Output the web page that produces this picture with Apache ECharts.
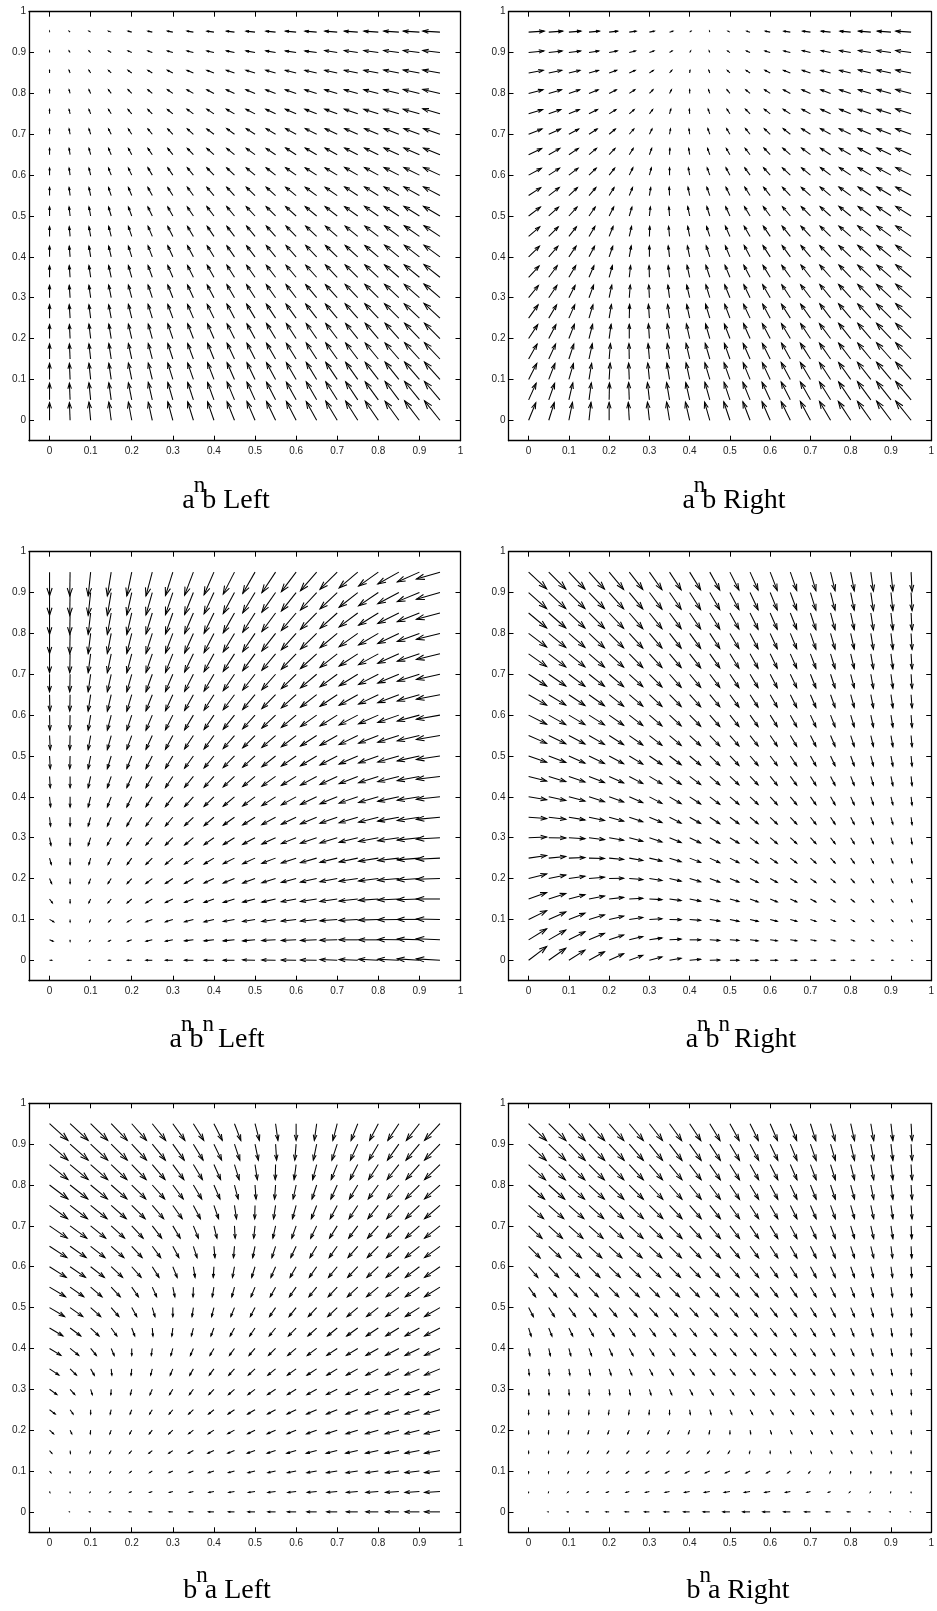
<!DOCTYPE html>
<html>
<head>
<meta charset="utf-8">
<script src="https://cdn.jsdelivr.net/npm/echarts@6/dist/echarts.min.js"></script>
<style>
  html, body { margin: 0; padding: 0; background: #fff; }
  #chart { width: 937px; height: 1611px; }
</style>
</head>
<body>
<div id="chart"></div>
<script>
// Sample grid of the six direction fields (same grid for every panel)
const gridX = [0, 0.05, 0.1, 0.15, 0.2, 0.25, 0.3, 0.35, 0.4, 0.45, 0.5, 0.55, 0.6, 0.65, 0.7, 0.75, 0.8, 0.85, 0.9, 0.95];
const gridY = [0, 0.05, 0.1, 0.15, 0.2, 0.25, 0.3, 0.35, 0.4, 0.45, 0.5, 0.55, 0.6, 0.65, 0.7, 0.75, 0.8, 0.85, 0.9, 0.95];
const tickValues = [0, 0.1, 0.2, 0.3, 0.4, 0.5, 0.6, 0.7, 0.8, 0.9, 1];

// Vector components: row k belongs to y = gridY[k], column j to x = gridX[j]

// a^n b, Left: horizontal component
const anbLeftU = [
  [0,-2,-5,-7,-10,-12,-15,-17,-19,-22,-24,-27,-29,-31,-34,-36,-39,-41,-44,-46],
  [0,-2,-5,-7,-10,-12,-15,-17,-19,-22,-24,-27,-29,-31,-34,-36,-39,-41,-44,-46],
  [0,-2,-5,-7,-10,-12,-15,-17,-19,-22,-24,-27,-29,-31,-34,-36,-39,-41,-44,-46],
  [0,-2,-5,-7,-10,-12,-15,-17,-19,-22,-24,-27,-29,-31,-34,-36,-39,-41,-44,-46],
  [0,-2,-5,-7,-10,-12,-15,-17,-19,-22,-24,-27,-29,-31,-34,-36,-39,-41,-44,-46],
  [0,-2.5,-5,-7.5,-10,-12.5,-15,-17.5,-20,-22.5,-25,-27.5,-30,-32.5,-35,-37.5,-40,-42.5,-45,-47.5],
  [0,-2.5,-5,-7.5,-10,-12.5,-15,-17.5,-20,-22.5,-25,-27.5,-30,-32.5,-35,-37.5,-40,-42.5,-45,-47.5],
  [0,-2.5,-5,-7.5,-10,-12.5,-15,-17.5,-20,-22.5,-25,-27.5,-30,-32.5,-35,-37.5,-40,-42.5,-45,-47.5],
  [0,-2.5,-5,-7.5,-10,-12.5,-15,-17.5,-20,-22.5,-25,-27.5,-30,-32.5,-35,-37.5,-40,-42.5,-45,-47.5],
  [0,-2.5,-5,-7.5,-10,-12.5,-15,-17.5,-20,-22.5,-25,-27.5,-30,-32.5,-35,-37.5,-40,-42.5,-45,-47.5],
  [0,-3,-5,-8,-10,-13,-15,-18,-21,-23,-26,-28,-31,-34,-36,-39,-41,-44,-46,-49],
  [0,-3,-5,-8,-10,-13,-15,-18,-21,-23,-26,-28,-31,-34,-36,-39,-41,-44,-46,-49],
  [0,-3,-5,-8,-10,-13,-15,-18,-21,-23,-26,-28,-31,-34,-36,-39,-41,-44,-46,-49],
  [0,-3,-5,-8,-10,-13,-15,-18,-21,-23,-26,-28,-31,-34,-36,-39,-41,-44,-46,-49],
  [0,-3,-5,-8,-10,-13,-15,-18,-21,-23,-26,-28,-31,-34,-36,-39,-41,-44,-46,-49],
  [0,-3,-5,-8,-11,-13,-16,-19,-21,-24,-27,-29,-32,-35,-37,-40,-43,-45,-48,-51],
  [0,-3,-5,-8,-11,-13,-16,-19,-21,-24,-27,-29,-32,-35,-37,-40,-43,-45,-48,-51],
  [0,-3,-5,-8,-11,-13,-16,-19,-21,-24,-27,-29,-32,-35,-37,-40,-43,-45,-48,-51],
  [0,-3,-5,-8,-11,-13,-16,-19,-21,-24,-27,-29,-32,-35,-37,-40,-43,-45,-48,-51],
  [0,-3,-5,-8,-11,-13,-16,-19,-21,-24,-27,-29,-32,-35,-37,-40,-43,-45,-48,-51]
];

// a^n b (Left and Right): vertical component
const anbV = [
  [53,53,54,54,54,54,55,55,55,55,56,56,56,56,57,57,57,57,58,58],
  [50,50,51,51,51,52,52,52,52,53,53,53,53,54,54,54,54,55,55,55],
  [48,48,48,48,49,49,49,49,50,50,50,50,50,51,51,51,51,52,52,52],
  [45,45,45,46,46,46,46,46,47,47,47,47,47,48,48,48,48,48,49,49],
  [42,42,43,43,43,43,44,44,44,44,44,45,45,45,45,45,46,46,46,46],
  [40,40,40,40,41,41,41,41,41,42,42,42,42,42,42,43,43,43,43,44],
  [37,37,37,38,38,38,38,38,38,39,39,39,39,39,39,40,40,40,40,41],
  [34,35,35,35,35,35,35,35,36,36,36,36,36,36,37,37,37,37,37,38],
  [32,32,32,32,32,33,33,33,33,33,33,34,34,34,34,34,34,35,35,35],
  [29,29,29,30,30,30,30,30,30,30,31,31,31,31,31,31,31,32,32,32],
  [27,27,27,27,27,27,27,27,28,28,28,28,28,28,28,28,29,29,29,29],
  [24,24,24,24,24,24,24,25,25,25,25,25,25,25,25,26,26,26,26,26],
  [21,21,21,21,21,22,22,22,22,22,22,22,22,22,22,23,23,23,23,23],
  [19,19,19,19,19,19,19,19,19,19,19,19,20,20,20,20,20,20,20,20],
  [16,16,16,16,16,16,16,16,16,17,17,17,17,17,17,17,17,17,17,17],
  [13,13,13,13,13,13,13,14,14,14,14,14,14,14,14,14,14,14,14,15],
  [11,11,11,11,11,11,11,11,11,11,11,11,11,11,11,11,11,11,12,12],
  [8,8,8,8,8,8,8,8,8,8,8,8,8,8,8,8,8,9,9,9],
  [5,5,5,5,5,5,5,5,5,5,5,5,5,5,6,6,6,6,6,6],
  [3,3,3,3,3,3,3,3,3,3,3,3,3,3,3,3,3,3,3,3]
];

// a^n b, Right: horizontal component
const anbRightU = [
  [22,17,11,6,0,-3,-6,-9,-13,-16,-19,-22,-25,-28,-31,-34,-38,-41,-44,-47],
  [23,18,12,7,1,-2,-6,-9,-12,-15,-18,-22,-25,-28,-31,-34,-37,-41,-44,-47],
  [25,19,14,8,3,-2,-5,-8,-11,-15,-18,-21,-24,-28,-31,-34,-37,-41,-44,-47],
  [26,21,15,10,4,-1,-4,-7,-11,-14,-17,-21,-24,-27,-31,-34,-37,-40,-44,-47],
  [28,22,17,11,6,0,-3,-7,-10,-13,-17,-20,-24,-27,-30,-34,-37,-40,-44,-47],
  [29,24,18,12,7,1,-3,-6,-9,-13,-16,-20,-23,-27,-30,-33,-37,-40,-44,-47],
  [30,25,19,14,8,3,-2,-5,-9,-12,-16,-19,-23,-26,-30,-33,-37,-40,-44,-47],
  [32,26,21,15,10,4,-1,-4,-8,-12,-15,-19,-22,-26,-29,-33,-36,-40,-43,-47],
  [33,28,22,17,11,6,0,-4,-7,-11,-14,-18,-22,-25,-29,-33,-36,-40,-43,-47],
  [34,29,23,18,12,7,1,-3,-6,-10,-14,-18,-21,-25,-29,-32,-36,-40,-43,-47],
  [36,30,25,19,14,8,3,-2,-6,-9,-13,-17,-21,-24,-28,-32,-36,-39,-43,-47],
  [37,32,26,21,15,10,4,-1,-5,-9,-12,-16,-20,-24,-28,-32,-36,-39,-43,-47],
  [39,33,28,22,17,11,6,0,-4,-8,-12,-16,-20,-24,-27,-31,-35,-39,-43,-47],
  [40,34,29,23,18,12,7,1,-3,-7,-11,-15,-19,-23,-27,-31,-35,-39,-43,-47],
  [41,36,30,25,19,14,8,3,-2,-6,-10,-14,-18,-22,-27,-31,-35,-39,-43,-47],
  [43,37,32,26,21,15,10,4,-1,-5,-9,-14,-18,-22,-26,-30,-34,-39,-43,-47],
  [44,39,33,28,22,17,11,6,0,-4,-9,-13,-17,-21,-26,-30,-34,-38,-43,-47],
  [45,40,34,29,23,18,12,7,1,-3,-8,-12,-16,-21,-25,-30,-34,-38,-43,-47],
  [47,41,36,30,25,19,14,8,3,-2,-7,-11,-16,-20,-25,-29,-34,-38,-43,-47],
  [48,43,37,32,26,21,15,10,4,-1,-6,-10,-15,-20,-24,-29,-33,-38,-42,-47]
];

// a^n b^n, Left
const anbnLeftU = [
  [6,0,-3,-7,-12,-18,-21,-25,-28,-32,-35,-39,-42,-46,-49,-53,-56,-60,-63,-67],
  [10,0,-3,-7,-12,-18,-21,-25,-28,-32,-35,-39,-42,-46,-49,-53,-56,-60,-63,-67],
  [12,0,-3,-7,-12,-18,-21,-25,-28,-32,-35,-39,-42,-46,-49,-53,-56,-60,-63,-67],
  [8,0,-5,-9,-13,-18,-21,-25,-28,-32,-35,-39,-42,-46,-49,-53,-56,-60,-63,-67],
  [6,0,-5,-9,-13,-18,-21,-25,-28,-32,-35,-39,-42,-46,-49,-53,-56,-60,-63,-67],
  [5,0,-5,-9,-13,-18,-21,-25,-28,-32,-35,-39,-42,-46,-49,-53,-56,-60,-63,-67],
  [4,0,-7,-11,-14,-18,-21,-25,-28,-32,-35,-39,-42,-46,-49,-53,-56,-60,-63,-67],
  [3,0,-7,-11,-14,-18,-21,-25,-28,-32,-35,-39,-42,-46,-49,-53,-56,-60,-63,-67],
  [3,0,-7,-11,-14,-18,-21,-25,-28,-32,-35,-39,-42,-46,-49,-53,-56,-60,-63,-67],
  [2,0,-7,-11,-14,-18,-21,-25,-28,-32,-35,-39,-42,-46,-49,-53,-56,-60,-63,-67],
  [2,-1,-7,-11,-14,-18,-21,-25,-28,-32,-35,-39,-42,-46,-49,-53,-56,-60,-63,-67],
  [2,-1,-7,-11,-14,-18,-21,-25,-28,-32,-35,-39,-42,-46,-49,-53,-56,-60,-63,-67],
  [1,-1,-7,-11,-14,-18,-21,-25,-28,-32,-35,-39,-42,-46,-49,-53,-56,-60,-63,-67],
  [1,-1,-7,-11,-14,-18,-21,-25,-28,-32,-35,-39,-42,-46,-49,-53,-56,-60,-63,-67],
  [0,-1,-7,-11,-14,-18,-21,-25,-28,-32,-35,-39,-42,-46,-49,-53,-56,-60,-63,-67],
  [0,-1,-7,-11,-14,-18,-21,-25,-28,-32,-35,-39,-42,-46,-49,-53,-56,-60,-63,-67],
  [0,-1,-7,-11,-14,-18,-21,-25,-28,-32,-35,-39,-42,-46,-49,-53,-56,-60,-63,-67],
  [0,-1,-7,-11,-14,-18,-21,-25,-28,-32,-35,-39,-42,-46,-49,-53,-56,-60,-63,-67],
  [0,-1,-7,-11,-14,-18,-21,-25,-28,-32,-35,-39,-42,-46,-49,-53,-56,-60,-63,-67],
  [0,-1,-7,-11,-14,-18,-21,-25,-28,-32,-35,-39,-42,-46,-49,-53,-56,-60,-63,-67]
];
const anbnLeftV = [
  [0,0,0,0,0,0,0,0,0,0,1,1,1,1,2,2,3,3,4,4],
  [-4,-4,-4,-4,-4,-4,-4,-3,-3,-3,-3,-2,-2,-2,-1,0,0,1,2,3],
  [-7,-7,-7,-7,-7,-7,-7,-7,-7,-6,-6,-6,-5,-5,-4,-3,-2,-1,0,1],
  [-11,-11,-11,-11,-11,-11,-10,-10,-10,-10,-9,-9,-8,-7,-7,-6,-4,-3,-2,0],
  [-14,-14,-14,-14,-14,-14,-14,-14,-13,-13,-13,-12,-11,-10,-9,-8,-7,-5,-4,-2],
  [-18,-18,-18,-18,-18,-18,-18,-17,-17,-16,-16,-15,-14,-13,-12,-11,-9,-7,-5,-3],
  [-22,-22,-22,-21,-21,-21,-21,-21,-20,-20,-19,-18,-17,-16,-15,-13,-11,-9,-7,-4],
  [-25,-25,-25,-25,-25,-25,-25,-24,-24,-23,-22,-21,-20,-19,-17,-16,-14,-11,-9,-6],
  [-29,-29,-29,-29,-29,-28,-28,-28,-27,-27,-26,-25,-23,-22,-20,-18,-16,-13,-10,-7],
  [-32,-32,-32,-32,-32,-32,-32,-31,-31,-30,-29,-28,-26,-25,-23,-21,-18,-15,-12,-8],
  [-36,-36,-36,-36,-36,-36,-35,-35,-34,-33,-32,-31,-29,-28,-26,-23,-20,-17,-14,-10],
  [-40,-40,-40,-40,-39,-39,-39,-38,-38,-37,-35,-34,-32,-30,-28,-26,-22,-19,-15,-11],
  [-43,-43,-43,-43,-43,-43,-42,-42,-41,-40,-39,-37,-35,-33,-31,-28,-25,-21,-17,-12],
  [-47,-47,-47,-47,-47,-46,-46,-45,-44,-43,-42,-40,-38,-36,-33,-30,-27,-23,-18,-13],
  [-50,-50,-50,-50,-50,-50,-49,-49,-48,-47,-45,-44,-41,-39,-36,-33,-29,-25,-20,-15],
  [-54,-54,-54,-54,-54,-53,-53,-52,-51,-50,-48,-47,-44,-42,-39,-35,-31,-27,-21,-16],
  [-58,-58,-58,-57,-57,-57,-56,-56,-55,-53,-52,-50,-47,-45,-41,-38,-33,-29,-23,-17],
  [-61,-61,-61,-61,-61,-60,-60,-59,-58,-57,-55,-53,-50,-47,-44,-40,-35,-30,-25,-18],
  [-65,-65,-65,-65,-64,-64,-63,-63,-61,-60,-58,-56,-53,-50,-47,-42,-38,-32,-26,-19],
  [-68,-68,-68,-68,-68,-68,-67,-66,-65,-63,-61,-59,-56,-53,-49,-45,-40,-34,-28,-20]
];

// a^n b^n, Right
const anbnRightU = [
  [56,53,50,48,45,42,39,36,34,31,28,25,22,20,17,14,11,8,6,3],
  [56,53,50,48,45,42,39,36,34,31,28,25,22,20,17,14,11,8,6,3],
  [56,53,50,48,45,42,39,36,34,31,28,25,22,20,17,14,11,8,6,3],
  [56,53,50,48,45,42,39,36,34,31,28,25,22,20,17,14,11,8,6,3],
  [56,53,50,48,45,42,39,36,34,31,28,25,22,20,17,14,11,8,6,3],
  [56,53,50,48,45,42,39,36,34,31,28,25,22,20,17,14,11,8,6,3],
  [56,53,50,48,45,42,39,36,34,31,28,25,22,20,17,14,11,8,6,3],
  [56,53,50,48,45,42,39,36,34,31,28,25,22,20,17,14,11,8,6,3],
  [56,53,50,48,45,42,39,36,34,31,28,25,22,20,17,14,11,8,6,3],
  [56,53,50,48,45,42,39,36,34,31,28,25,22,20,17,14,11,8,6,3],
  [56,53,50,48,45,42,39,36,34,31,28,25,22,20,17,14,11,8,6,3],
  [56,53,50,48,45,42,39,36,34,31,28,25,22,20,17,14,11,8,6,3],
  [56,53,50,48,45,42,39,36,34,31,28,25,22,20,17,14,11,8,6,3],
  [56,53,50,48,45,42,39,36,34,31,28,25,22,20,17,14,11,8,6,3],
  [56,53,50,48,45,42,39,36,34,31,28,25,22,20,17,14,11,8,6,3],
  [56,53,50,48,45,42,39,36,34,31,28,25,22,20,17,14,11,8,6,3],
  [56,53,50,48,45,42,39,36,34,31,28,25,22,20,17,14,11,8,6,3],
  [56,53,50,48,45,42,39,36,34,31,28,25,22,20,17,14,11,8,6,3],
  [56,53,50,48,45,42,39,36,34,31,28,25,22,20,17,14,11,8,6,3],
  [56,53,50,48,45,42,39,36,34,31,28,25,22,20,17,14,11,8,6,3]
];
const anbnRightV = [
  [42,37,31,26,20,15,10,6,3,1,0,0,0,0,0,0,0,0,0,0],
  [34,30,25,20,15,10,6,2,0,-2,-2,-3,-3,-3,-3,-3,-3,-3,-3,-3],
  [27,23,19,14,10,6,2,-1,-3,-5,-6,-6,-6,-6,-6,-6,-6,-6,-6,-6],
  [20,17,13,9,5,2,-2,-5,-7,-8,-8,-9,-9,-9,-9,-9,-9,-9,-9,-9],
  [14,11,7,4,1,-3,-6,-8,-10,-11,-11,-12,-12,-12,-12,-12,-12,-12,-12,-12],
  [8,5,2,-1,-4,-7,-9,-11,-13,-14,-14,-15,-15,-15,-15,-15,-15,-15,-15,-15],
  [2,-1,-3,-6,-8,-11,-13,-15,-16,-17,-17,-18,-18,-18,-18,-18,-18,-18,-18,-19],
  [-4,-6,-8,-10,-12,-14,-16,-18,-19,-20,-20,-20,-21,-21,-21,-21,-21,-21,-21,-22],
  [-9,-11,-13,-15,-16,-18,-20,-21,-22,-23,-23,-23,-24,-24,-24,-24,-24,-24,-24,-25],
  [-14,-16,-17,-19,-20,-22,-23,-24,-25,-26,-26,-26,-27,-27,-27,-27,-27,-27,-28,-28],
  [-19,-20,-22,-23,-24,-25,-26,-27,-28,-29,-29,-29,-29,-30,-30,-30,-30,-30,-31,-31],
  [-24,-25,-26,-27,-28,-29,-30,-30,-31,-32,-32,-32,-32,-33,-33,-33,-33,-33,-34,-34],
  [-28,-29,-29,-30,-31,-32,-33,-33,-34,-35,-35,-35,-35,-36,-36,-36,-36,-37,-37,-37],
  [-32,-32,-33,-34,-35,-35,-36,-36,-37,-37,-38,-38,-38,-39,-39,-39,-39,-40,-40,-40],
  [-36,-36,-37,-37,-38,-38,-39,-40,-40,-40,-41,-41,-41,-41,-42,-42,-42,-43,-43,-43],
  [-39,-40,-40,-41,-41,-42,-42,-42,-43,-43,-44,-44,-44,-44,-45,-45,-45,-46,-46,-46],
  [-42,-43,-43,-44,-44,-45,-45,-45,-46,-46,-46,-47,-47,-47,-48,-48,-48,-49,-49,-49],
  [-46,-46,-46,-47,-47,-48,-48,-48,-49,-49,-49,-50,-50,-50,-51,-51,-51,-52,-52,-52],
  [-49,-49,-49,-49,-50,-50,-51,-51,-52,-52,-52,-53,-53,-53,-54,-54,-54,-55,-55,-55],
  [-51,-52,-52,-52,-53,-53,-54,-54,-54,-55,-55,-55,-56,-56,-57,-57,-57,-58,-58,-59]
];

// b^n a, Left
const bnaLeftU = [
  [0,-1,-3,-5,-7,-9,-11,-13,-16,-18,-21,-23,-26,-29,-31,-34,-37,-40,-43,-46],
  [1,0,-2,-4,-6,-8,-10,-12,-15,-17,-20,-23,-25,-28,-31,-34,-37,-40,-43,-46],
  [4,0,-2,-4,-6,-8,-11,-13,-16,-18,-21,-23,-26,-29,-32,-35,-37,-40,-43,-46],
  [7,1,-2,-5,-7,-10,-12,-15,-18,-20,-23,-25,-28,-31,-33,-36,-38,-41,-43,-46],
  [12,5,-1,-4,-6,-9,-12,-14,-17,-20,-22,-25,-27,-30,-33,-35,-38,-41,-43,-46],
  [17,9,0,-3,-5,-8,-11,-14,-16,-19,-22,-24,-27,-30,-32,-35,-38,-41,-43,-46],
  [22,14,5,-1,-4,-7,-10,-12,-15,-18,-21,-24,-26,-29,-32,-35,-38,-40,-43,-46],
  [28,19,11,2,-2,-5,-8,-11,-14,-17,-20,-23,-26,-29,-31,-34,-37,-40,-43,-46],
  [34,26,17,9,0,-3,-6,-9,-12,-15,-18,-21,-25,-28,-31,-34,-37,-40,-43,-46],
  [40,32,25,17,9,2,-3,-6,-9,-13,-16,-19,-23,-26,-29,-33,-36,-39,-43,-46],
  [45,38,30,23,15,8,0,-4,-7,-11,-14,-18,-21,-25,-28,-32,-35,-39,-42,-46],
  [48,41,34,27,20,13,6,-1,-5,-8,-12,-16,-20,-23,-27,-31,-35,-38,-42,-46],
  [50,46,41,34,28,20,13,5,-2,-6,-10,-14,-18,-22,-26,-30,-34,-38,-42,-46],
  [52,48,43,38,31,25,18,11,3,-3,-7,-11,-16,-20,-24,-29,-33,-37,-42,-46],
  [53,50,45,40,34,28,22,15,9,2,-4,-8,-13,-18,-23,-27,-32,-37,-41,-46],
  [54,52,49,45,40,34,28,21,14,6,-1,-6,-11,-16,-21,-26,-31,-36,-41,-46],
  [55,53,50,47,42,37,31,25,18,11,3,-3,-9,-14,-19,-25,-30,-35,-41,-46],
  [55,54,51,47,43,38,33,27,20,14,7,-1,-6,-12,-18,-23,-29,-35,-40,-46],
  [55,54,51,48,44,39,34,29,23,16,10,3,-4,-10,-16,-22,-28,-34,-40,-46],
  [55,54,51,48,44,40,36,31,25,19,13,7,0,-7,-13,-20,-26,-33,-39,-46]
];
const bnaLeftV = [
  [0,0,0,0,0,0,0,0,0,0,0,0,0,0,0,0,0,0,0,0],
  [-3,-3,-3,-3,-3,-3,-3,-3,-3,-3,-3,-3,-3,-3,-3,-3,-3,-3,-3,-3],
  [-5,-5,-5,-5,-5,-5,-5,-5,-5,-5,-5,-5,-5,-5,-5,-5,-5,-5,-5,-5],
  [-8,-8,-8,-8,-8,-8,-8,-8,-8,-8,-8,-8,-8,-8,-8,-8,-8,-8,-8,-8],
  [-11,-11,-11,-11,-11,-11,-11,-11,-11,-11,-11,-11,-11,-11,-11,-11,-11,-11,-11,-11],
  [-13,-13,-13,-13,-13,-13,-13,-13,-13,-13,-13,-13,-13,-13,-13,-13,-13,-13,-13,-13],
  [-16,-16,-16,-16,-16,-16,-16,-16,-16,-16,-16,-16,-16,-16,-16,-16,-16,-16,-16,-16],
  [-19,-19,-19,-19,-19,-19,-19,-19,-19,-19,-19,-19,-19,-19,-19,-19,-19,-19,-19,-19],
  [-21,-21,-21,-21,-21,-21,-21,-21,-21,-21,-21,-21,-21,-21,-21,-21,-21,-21,-21,-21],
  [-24,-24,-24,-24,-24,-24,-24,-24,-24,-24,-24,-24,-24,-24,-24,-24,-24,-24,-24,-24],
  [-27,-27,-27,-27,-27,-27,-27,-27,-27,-27,-27,-27,-27,-27,-27,-27,-27,-27,-27,-27],
  [-29,-29,-29,-29,-29,-29,-29,-29,-29,-29,-29,-29,-29,-29,-29,-29,-29,-29,-29,-29],
  [-32,-32,-32,-32,-32,-32,-32,-32,-32,-32,-32,-32,-32,-32,-32,-32,-32,-32,-32,-32],
  [-34,-34,-34,-34,-34,-34,-34,-34,-34,-34,-34,-34,-34,-34,-34,-34,-34,-34,-34,-34],
  [-37,-37,-37,-37,-37,-37,-37,-37,-37,-37,-37,-37,-37,-37,-37,-37,-37,-37,-37,-37],
  [-40,-40,-40,-40,-40,-40,-40,-40,-40,-40,-40,-40,-40,-40,-40,-40,-40,-40,-40,-40],
  [-42,-42,-42,-42,-42,-42,-42,-42,-42,-42,-42,-42,-42,-42,-42,-42,-42,-42,-42,-42],
  [-45,-45,-45,-45,-45,-45,-45,-45,-45,-45,-45,-45,-45,-45,-45,-45,-45,-45,-45,-45],
  [-48,-48,-48,-48,-48,-48,-48,-48,-48,-48,-48,-48,-48,-48,-48,-48,-48,-48,-48,-48],
  [-50,-50,-50,-50,-50,-50,-50,-50,-50,-50,-50,-50,-50,-50,-50,-50,-50,-50,-50,-50]
];

// b^n a, Right
const bnaRightU = [
  [0,-2,-5,-8,-10,-13,-15,-17,-19,-21,-22,-23,-23,-21,-18,-14,-10,-6,-3,-1],
  [0,-1,-4,-6,-8,-10,-12,-14,-16,-17,-18,-18,-17,-15,-11,-7,-4,-2,-1,0],
  [0,-1,-3,-5,-7,-9,-11,-12,-13,-14,-14,-13,-11,-8,-5,-2,0,0,0,0],
  [0,-1,-3,-5,-6,-7,-8,-8,-8,-7,-5,-2,0,2,3,4,4,3,2,0],
  [0,-1,-2,-3,-4,-5,-5,-5,-4,-2,0,2,4,5,6,6,6,5,3,1],
  [0,0,-1,-1,-2,-2,-1,0,2,4,6,8,9,10,10,9,8,6,3,1],
  [1,1,1,1,2,3,5,7,9,11,12,13,13,13,12,11,9,7,4,1],
  [2,2,3,4,6,8,10,12,14,15,16,16,16,15,14,12,10,7,4,1],
  [4,5,6,8,10,12,14,16,18,19,19,19,18,17,15,13,10,7,4,1],
  [8,10,12,14,16,18,19,20,21,22,22,21,20,18,16,13,10,7,4,1],
  [15,18,21,23,24,25,26,26,26,26,25,24,22,20,18,15,12,8,5,2],
  [22,25,27,29,30,31,31,31,30,29,28,26,24,21,18,15,12,8,5,2],
  [29,31,33,34,35,35,35,34,33,31,29,27,24,21,18,15,12,8,5,2],
  [36,38,39,40,40,40,39,37,35,33,30,27,24,21,18,15,12,9,5,2],
  [42,43,44,44,44,43,41,39,36,33,30,27,24,21,18,15,12,9,6,2],
  [47,47,47,46,45,44,42,39,36,33,30,27,24,21,18,15,12,9,6,3],
  [50,50,49,48,46,44,42,39,36,33,30,27,24,21,18,15,12,9,6,3],
  [53,52,50,48,46,44,41,39,36,33,30,27,24,21,18,15,12,9,6,3],
  [55,53,51,49,47,44,41,39,36,33,30,27,24,21,18,15,12,9,6,3],
  [56,54,51,49,46,44,41,38,35,32,29,26,23,20,17,14,12,9,6,3]
];
const bnaRightV = [
  [0,0,0,0,0,0,0,0,0,0,0,0,0,0,0,0,0,0,0,0],
  [-3,-3,-3,-3,-3,-3,-3,-3,-3,-3,-3,-3,-3,-3,-3,-3,-3,-3,-3,-3],
  [-6,-6,-6,-6,-6,-6,-6,-6,-6,-6,-6,-6,-6,-6,-6,-6,-6,-6,-6,-6],
  [-8,-8,-8,-8,-8,-8,-8,-8,-8,-8,-8,-8,-8,-8,-8,-8,-8,-8,-8,-8],
  [-11,-11,-11,-11,-11,-11,-11,-11,-11,-11,-11,-11,-11,-11,-11,-11,-11,-11,-11,-11],
  [-14,-14,-14,-14,-14,-14,-14,-14,-14,-14,-14,-14,-14,-14,-14,-14,-14,-14,-14,-14],
  [-17,-17,-17,-17,-17,-17,-17,-17,-17,-17,-17,-17,-17,-17,-17,-17,-17,-17,-17,-17],
  [-19,-19,-19,-19,-19,-19,-19,-19,-19,-19,-19,-19,-19,-19,-19,-19,-19,-19,-19,-19],
  [-22,-22,-22,-22,-22,-22,-22,-22,-22,-22,-22,-22,-22,-22,-22,-22,-22,-22,-22,-22],
  [-25,-25,-25,-25,-25,-25,-25,-25,-25,-25,-25,-25,-25,-25,-25,-25,-25,-25,-25,-25],
  [-28,-28,-28,-28,-28,-28,-28,-28,-28,-28,-28,-28,-28,-28,-28,-28,-28,-28,-28,-28],
  [-30,-30,-30,-30,-30,-30,-30,-30,-30,-30,-30,-30,-30,-30,-30,-30,-30,-30,-30,-30],
  [-33,-33,-33,-33,-33,-33,-33,-33,-33,-33,-33,-33,-33,-33,-33,-33,-33,-33,-33,-33],
  [-36,-36,-36,-36,-36,-36,-36,-36,-36,-36,-36,-36,-36,-36,-36,-36,-36,-36,-36,-36],
  [-39,-39,-39,-39,-39,-39,-39,-39,-39,-39,-39,-39,-39,-39,-39,-39,-39,-39,-39,-39],
  [-41,-41,-41,-41,-41,-41,-41,-41,-41,-41,-41,-41,-41,-41,-41,-41,-41,-41,-41,-41],
  [-44,-44,-44,-44,-44,-44,-44,-44,-44,-44,-44,-44,-44,-44,-44,-44,-44,-44,-44,-44],
  [-47,-47,-47,-47,-47,-47,-47,-47,-47,-47,-47,-47,-47,-47,-47,-47,-47,-47,-47,-47],
  [-50,-50,-50,-50,-50,-50,-50,-50,-50,-50,-50,-50,-50,-50,-50,-50,-50,-50,-50,-50],
  [-52,-52,-52,-52,-52,-52,-52,-52,-52,-52,-52,-52,-52,-52,-52,-52,-52,-52,-52,-52]
];

// Panel captions (rich text: m = main, s = superscript)
const captions = [
  '{m|a}{s|n}{m|b Left}',
  '{m|a}{s|n}{m|b Right}',
  '{m|a}{s|n}{m|b}{s|n}{m| Left}',
  '{m|a}{s|n}{m|b}{s|n}{m| Right}',
  '{m|b}{s|n}{m|a Left}',
  '{m|b}{s|n}{m|a Right}'
];

// Layout of the 3 x 2 panel grid
const PLOT_W = 431.5, PLOT_H = 429;
const layout = [
  { left: 29,    top: 11.7,   cx: 226, cy: 501 },
  { left: 508.5, top: 11.7,   cx: 734, cy: 501 },
  { left: 29,    top: 551.7,  cx: 217, cy: 1040 },
  { left: 508.5, top: 551.7,  cx: 741, cy: 1040 },
  { left: 29,    top: 1103.3, cx: 227, cy: 1591 },
  { left: 508.5, top: 1103.3, cx: 738, cy: 1591 }
];
const fields = [
  [anbLeftU, anbV], [anbRightU, anbV],
  [anbnLeftU, anbnLeftV], [anbnRightU, anbnRightV],
  [bnaLeftU, bnaLeftV], [bnaRightU, bnaRightV]
];

// Arrow glyph: shaft plus open head, sized like a classic quiver plot
function makeArrowRenderer(scale) {
  const alpha = 0.33, beta = 0.33;
  const style = { stroke: '#000', lineWidth: 1.05, fill: null };
  return function (params, api) {
    const x = api.value(0), y = api.value(1);
    const u = api.value(2) * scale, v = api.value(3) * scale;
    const tail = api.coord([x, y]);
    const tip = api.coord([x + u, y + v]);
    const h1 = api.coord([x + u - alpha * (u + beta * v), y + v - alpha * (v - beta * u)]);
    const h2 = api.coord([x + u - alpha * (u - beta * v), y + v - alpha * (v + beta * u)]);
    return {
      type: 'group',
      children: [
        { type: 'line', shape: { x1: tail[0], y1: tail[1], x2: tip[0], y2: tip[1] }, style: style },
        { type: 'polyline', shape: { points: [h1, tip, h2] }, style: style }
      ]
    };
  };
}

const labelStyle = {
  fontSize: 10,
  color: '#222',
  fontFamily: 'Liberation Sans, Arial, Helvetica, sans-serif',
  customValues: tickValues,
  formatter: function (v) { return String(Math.round(v * 10) / 10); }
};

function axisBase(k) {
  return {
    gridIndex: k,
    type: 'value',
    min: -0.05,
    max: 1,
    splitLine: { show: false },
    axisLine: { onZero: false, lineStyle: { color: '#000', width: 1.3 } },
    axisTick: { inside: true, length: 5, customValues: tickValues, lineStyle: { color: '#000', width: 1 } }
  };
}

const grid = [], xAxis = [], yAxis = [], series = [], graphic = [];
// Spacing used by the arrow autoscale (longest arrow = 0.9 of a diagonal cell)
const delx = (gridX[gridX.length - 1] - gridX[0]) / gridX.length;
const dely = (gridY[gridY.length - 1] - gridY[0]) / gridY.length;

layout.forEach(function (p, k) {
  const U = fields[k][0], V = fields[k][1];
  grid.push({ left: p.left, top: p.top, width: PLOT_W, height: PLOT_H });
  xAxis.push(Object.assign(axisBase(k), { position: 'bottom', axisLabel: Object.assign({ margin: 6 }, labelStyle) }));
  xAxis.push(Object.assign(axisBase(k), { position: 'top', axisLabel: { show: false } }));
  yAxis.push(Object.assign(axisBase(k), { position: 'left', axisLabel: Object.assign({ margin: 3 }, labelStyle) }));
  yAxis.push(Object.assign(axisBase(k), { position: 'right', axisLabel: { show: false } }));

  const data = [];
  let maxLen = 0;
  gridY.forEach(function (yv, i) {
    gridX.forEach(function (xv, j) {
      data.push([xv, yv, U[i][j], V[i][j]]);
      maxLen = Math.max(maxLen, Math.hypot(U[i][j], V[i][j]));
    });
  });
  const scale = 0.9 * Math.hypot(delx, dely) / maxLen;

  series.push({
    type: 'custom',
    xAxisIndex: 2 * k,
    yAxisIndex: 2 * k,
    data: data,
    silent: true,
    animation: false,
    clip: false,
    renderItem: makeArrowRenderer(scale)
  });

  graphic.push({
    type: 'text',
    x: p.cx,
    y: p.cy,
    silent: true,
    style: {
      text: captions[k],
      align: 'center',
      verticalAlign: 'middle',
      rich: {
        m: { fontSize: 28, fontFamily: 'Liberation Serif, Times New Roman, serif', fill: '#000' },
        s: { fontSize: 23, fontFamily: 'Liberation Serif, Times New Roman, serif', fill: '#000', padding: [0, -3, 30, -1] }
      }
    }
  });
});

const chart = echarts.init(document.getElementById('chart'), null, { renderer: 'canvas' });
chart.setOption({
  animation: false,
  backgroundColor: '#fff',
  grid: grid,
  xAxis: xAxis,
  yAxis: yAxis,
  series: series,
  graphic: graphic
});
</script>
</body>
</html>
